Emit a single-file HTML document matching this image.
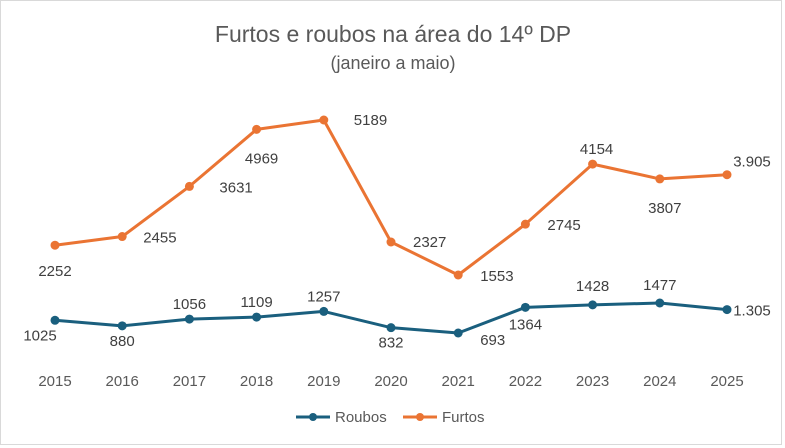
<!DOCTYPE html>
<html><head><meta charset="utf-8"><style>
body{margin:0;background:#fff}
svg{display:block;font-family:"Liberation Sans",sans-serif}
</style></head><body>
<svg id="c" width="785" height="448" viewBox="0 0 785 448">
<rect x="0.5" y="0.5" width="781" height="444" fill="#fff" stroke="#d9d9d9"/>
<text x="393" y="42" text-anchor="middle" font-size="23" fill="#595959">Furtos e roubos na área do 14º DP</text>
<text x="393" y="69" text-anchor="middle" font-size="18" fill="#595959">(janeiro a maio)</text>
<g id="xt"></g><g id="lines"></g><g id="labels"></g>
<g>
<line x1="296" y1="417" x2="330" y2="417" stroke="#1a5f7e" stroke-width="3"/>
<circle cx="313" cy="417" r="4" fill="#1a5f7e"/>
<text x="335" y="422" font-size="15" fill="#595959">Roubos</text>
<line x1="403" y1="417" x2="437" y2="417" stroke="#ea7433" stroke-width="3"/>
<circle cx="420" cy="417" r="4" fill="#ea7433"/>
<text x="442" y="422" font-size="15" fill="#595959">Furtos</text>
</g>
</svg>
<script>
const years=["2015","2016","2017","2018","2019","2020","2021","2022","2023","2024","2025"];
const furtos=[2252,2455,3631,4969,5189,2327,1553,2745,4154,3807,3905];
const roubos=[1025,880,1056,1109,1257,832,693,1364,1428,1477,1305];
const furtosLabels=["2252","2455","3631","4969","5189","2327","1553","2745","4154","3807","3.905"];
const roubosLabels=["1025","880","1056","1109","1257","832","693","1364","1428","1477","1.305"];
const fPos=[[0,31,"middle"],[21,6,"start"],[30,6,"start"],[5,34,"middle"],[30,5,"start"],[22,5,"start"],[22,6,"start"],[22,6,"start"],[4,-10,"middle"],[5,34,"middle"],[25,-8,"middle"]];
const rPos=[[-15,20,"middle"],[0,20,"middle"],[0,-10,"middle"],[0,-10,"middle"],[0,-10,"middle"],[0,20,"middle"],[22,12,"start"],[0,22,"middle"],[0,-14,"middle"],[0,-13,"middle"],[25,6,"middle"]];
const NS="http://www.w3.org/2000/svg";
function x(i){return 55+i*67.2;}
function yF(v){return 275-(v-1553)*0.04263;}
function yR(v){return 333-(v-693)*0.03827;}
function mk(t,a,p){const e=document.createElementNS(NS,t);for(const k in a)e.setAttribute(k,a[k]);p.appendChild(e);return e;}
const xt=document.getElementById('xt'),L=document.getElementById('lines'),LB=document.getElementById('labels');
years.forEach((y,i)=>{const t=mk('text',{x:x(i),y:386,'text-anchor':'middle','font-size':15,fill:'#595959'},xt);t.textContent=y;

});
function series(vals,labs,pos,yf,col,name){
  const pl=mk('polyline',{points:vals.map((v,i)=>x(i)+','+yf(v)).join(' '),fill:'none',stroke:col,'stroke-width':3,'stroke-linejoin':'round'},L);
  
  
  vals.forEach((v,i)=>{const c=mk('circle',{cx:x(i),cy:yf(v),r:4.5,fill:col},L);
    
    
    const p=pos[i];const t=mk('text',{x:x(i)+p[0],y:yf(v)+p[1],'text-anchor':p[2],'font-size':15,fill:'#404040'},LB);t.textContent=labs[i];
    
    });
}
series(roubos,roubosLabels,rPos,yR,'#1a5f7e','roubos');
series(furtos,furtosLabels,fPos,yF,'#ea7433','furtos');
</script>
</body></html>
